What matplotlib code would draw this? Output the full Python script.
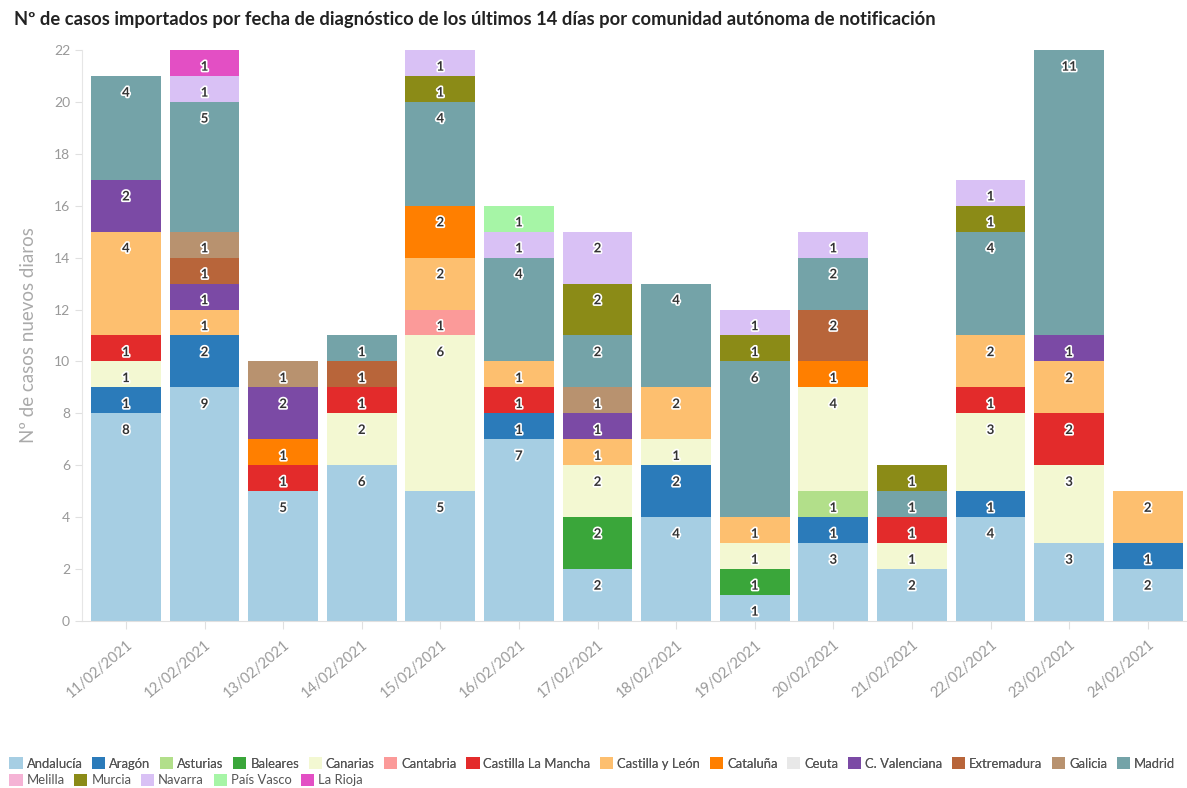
import matplotlib
matplotlib.use("Agg")
import matplotlib.pyplot as plt
import matplotlib.patheffects as pe
from matplotlib.patches import Patch
import numpy as np

plt.rcParams["font.family"] = ["Lato", "DejaVu Sans"]

fechas = ["11/02/2021", "12/02/2021", "13/02/2021", "14/02/2021", "15/02/2021",
          "16/02/2021", "17/02/2021", "18/02/2021", "19/02/2021", "20/02/2021",
          "21/02/2021", "22/02/2021", "23/02/2021", "24/02/2021"]

comunidades = ["Andalucía", "Aragón", "Asturias", "Baleares", "Canarias", "Cantabria",
               "Castilla La Mancha", "Castilla y León", "Cataluña", "Ceuta",
               "C. Valenciana", "Extremadura", "Galicia", "Madrid", "Melilla",
               "Murcia", "Navarra", "País Vasco", "La Rioja"]

colores = ["#a6cee3", "#2b7bba", "#b2df8a", "#3aa63a", "#f3f8d2", "#fb9a99",
           "#e32b2b", "#fdbf6f", "#ff7f00", "#e8e8e8", "#7b4aa5", "#b8653a",
           "#b8926f", "#74a3a8", "#f5b3d5", "#8b8b17", "#d9c1f5", "#a6f5a6",
           "#e34fc4"]

# casos por comunidad (filas) y fecha (columnas)
andalucia    = [8, 9, 5, 6, 5, 7, 2, 4, 1, 3, 2, 4, 3, 2]
aragon       = [1, 2, 0, 0, 0, 1, 0, 2, 0, 1, 0, 1, 0, 1]
asturias     = [0, 0, 0, 0, 0, 0, 0, 0, 0, 1, 0, 0, 0, 0]
baleares     = [0, 0, 0, 0, 0, 0, 2, 0, 1, 0, 0, 0, 0, 0]
canarias     = [1, 0, 0, 2, 6, 0, 2, 1, 1, 4, 1, 3, 3, 0]
cantabria    = [0, 0, 0, 0, 1, 0, 0, 0, 0, 0, 0, 0, 0, 0]
clm          = [1, 0, 1, 1, 0, 1, 0, 0, 0, 0, 1, 1, 2, 0]
cyl          = [4, 1, 0, 0, 2, 1, 1, 2, 1, 0, 0, 2, 2, 2]
cataluna     = [0, 0, 1, 0, 2, 0, 0, 0, 0, 1, 0, 0, 0, 0]
ceuta        = [0, 0, 0, 0, 0, 0, 0, 0, 0, 0, 0, 0, 0, 0]
cvalenciana  = [2, 1, 2, 0, 0, 0, 1, 0, 0, 0, 0, 0, 1, 0]
extremadura  = [0, 1, 0, 1, 0, 0, 0, 0, 0, 2, 0, 0, 0, 0]
galicia      = [0, 1, 1, 0, 0, 0, 1, 0, 0, 0, 0, 0, 0, 0]
madrid       = [4, 5, 0, 1, 4, 4, 2, 4, 6, 2, 1, 4, 11, 0]
melilla      = [0, 0, 0, 0, 0, 0, 0, 0, 0, 0, 0, 0, 0, 0]
murcia       = [0, 0, 0, 0, 1, 0, 2, 0, 1, 0, 1, 1, 0, 0]
navarra      = [0, 1, 0, 0, 1, 1, 2, 0, 1, 1, 0, 1, 0, 0]
pais_vasco   = [0, 0, 0, 0, 0, 1, 0, 0, 0, 0, 0, 0, 0, 0]
la_rioja     = [0, 1, 0, 0, 0, 0, 0, 0, 0, 0, 0, 0, 0, 0]

series = [andalucia, aragon, asturias, baleares, canarias, cantabria, clm, cyl,
          cataluna, ceuta, cvalenciana, extremadura, galicia, madrid, melilla,
          murcia, navarra, pais_vasco, la_rioja]

fig = plt.figure(figsize=(11.87, 7.88), dpi=100)
ax = fig.add_axes([0.069, 0.212, 0.931, 0.7245])

x = np.arange(len(fechas))
bottom = np.zeros(len(fechas))
halo = [pe.withStroke(linewidth=2.4, foreground="white")]
for nombre, vals, col in zip(comunidades, series, colores):
    vals = np.array(vals, dtype=float)
    ax.bar(x, vals, 0.89, bottom=bottom, color=col, linewidth=0)
    for i, v in enumerate(vals):
        if v > 0:
            top = bottom[i] + v
            ax.annotate(f"{int(v)}", (x[i], top), xytext=(0, -12),
                        textcoords="offset points", ha="center", va="center",
                        fontsize=9.5, fontweight="bold", color="#333333",
                        path_effects=halo)
    bottom += vals

ax.set_xlim(-0.56, 13.5)
ax.set_ylim(0, 22)
ax.set_yticks(range(0, 23, 2))
ax.set_xticks(x)
ax.set_xticklabels(fechas, rotation=40, ha="right", rotation_mode="anchor")

for s in ["top", "right"]:
    ax.spines[s].set_visible(False)
ax.spines["left"].set_color("#e6e6e6")
ax.spines["bottom"].set_color("#e0e0e0")
ax.tick_params(axis="y", colors="#e0e0e0", labelcolor="#999999", labelsize=10, length=5)
ax.tick_params(axis="x", colors="#e0e0e0", labelcolor="#999999", labelsize=10.5, length=6, pad=6)

ax.set_ylabel("Nº de casos nuevos diaros", fontsize=13.5, color="#aaaaaa", labelpad=12)

fig.text(0.012, 0.975, "Nº de casos importados por fecha de diagnóstico de los últimos 14 días por comunidad autónoma de notificación",
         fontsize=13.2, fontweight="bold", color="#222222", va="center")

# leyenda en dos filas
handles = [Patch(facecolor=c, edgecolor="none") for c in colores]
fila1 = 14
estilo = dict(frameon=False, fontsize=9.4, handlelength=1.0, handleheight=1.0,
              handletextpad=0.3, columnspacing=0.75, borderpad=0, borderaxespad=0,
              labelcolor="#555555", loc="upper left")
leg1 = fig.legend(handles[:fila1], comunidades[:fila1], ncol=fila1,
                  bbox_to_anchor=(0.008, 0.039), **estilo)
fig.add_artist(leg1)
fig.legend(handles[fila1:], comunidades[fila1:], ncol=len(comunidades) - fila1,
           bbox_to_anchor=(0.008, 0.018), **estilo)

fig.savefig("out.png", dpi=100)
